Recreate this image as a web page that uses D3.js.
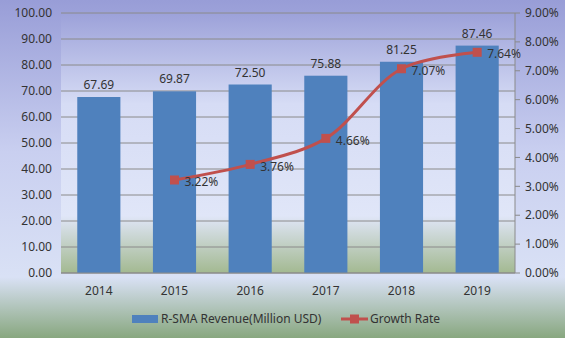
<!DOCTYPE html>
<html>
<head>
<meta charset="utf-8">
<script src="https://cdn.jsdelivr.net/npm/d3@7"></script>
<style>
  body { margin: 0; }
  svg { display: block; font-family: "Noto Sans", sans-serif; }
  text { fill: #333; }
</style>
</head>
<body>
<svg id="chart" width="565" height="338"></svg>
<script>
const years = ["2014", "2015", "2016", "2017", "2018", "2019"];
const revenue = [67.69, 69.87, 72.5, 75.88, 81.25, 87.46];
const growth = [null, 3.22, 3.76, 4.66, 7.07, 7.64];
const leftTicks = [0, 10, 20, 30, 40, 50, 60, 70, 80, 90, 100];
const rightTicks = [0, 1, 2, 3, 4, 5, 6, 7, 8, 9];

const W = 565;
const H = 338;
const margin = { top: 13, right: 50, bottom: 65, left: 61 };
const plotW = W - margin.left - margin.right;
const plotH = H - margin.top - margin.bottom;

const svg = d3.select("#chart");
const defs = svg.append("defs");

// chart background gradient
const bg = defs.append("linearGradient").attr("id", "bg").attr("x1", 0).attr("y1", 0).attr("x2", 0).attr("y2", 1);
bg.append("stop").attr("offset", "0%").attr("stop-color", "#989dd7");
bg.append("stop").attr("offset", "45%").attr("stop-color", "#c9cff0");
bg.append("stop").attr("offset", "82%").attr("stop-color", "#d9e1f5");
bg.append("stop").attr("offset", "100%").attr("stop-color", "#88a77f");

// plot area gradient
const pg = defs.append("linearGradient").attr("id", "pg").attr("x1", 0).attr("y1", 0).attr("x2", 0).attr("y2", 1);
pg.append("stop").attr("offset", "0%").attr("stop-color", "#9ca1d9");
pg.append("stop").attr("offset", "35%").attr("stop-color", "#d6dcf5");
pg.append("stop").attr("offset", "78%").attr("stop-color", "#e0e6f8");
pg.append("stop").attr("offset", "100%").attr("stop-color", "#a3b991");

svg.append("rect").attr("width", W).attr("height", H).attr("fill", "url(#bg)");

const g = svg.append("g").attr("transform", `translate(${margin.left},${margin.top})`);
g.append("rect").attr("width", plotW).attr("height", plotH).attr("fill", "url(#pg)");

const x = d3.scaleBand().domain(years).range([0, plotW]).paddingInner(0.43).paddingOuter(0.215);
const y = d3.scaleLinear().domain([0, 100]).range([plotH, 0]);
const y2 = d3.scaleLinear().domain([0, 9]).range([plotH, 0]);

// gridlines
g.append("g")
  .selectAll("line")
  .data(leftTicks)
  .join("line")
  .attr("x1", 0)
  .attr("x2", plotW)
  .attr("y1", (d) => y(d))
  .attr("y2", (d) => y(d))
  .attr("stroke", "#8a8a8a")
  .attr("stroke-width", 1);

// left axis labels
g.append("g")
  .selectAll("text")
  .data(leftTicks)
  .join("text")
  .attr("x", -9)
  .attr("y", (d) => y(d))
  .attr("dy", "0.35em")
  .attr("text-anchor", "end")
  .attr("font-size", 12)
  .text((d) => d.toFixed(2));

// right axis
const rAxis = g.append("g").attr("transform", `translate(${plotW},0)`);
rAxis.append("line").attr("y1", 0).attr("y2", plotH).attr("stroke", "#8a8a8a");
rAxis
  .selectAll("line.tick")
  .data(rightTicks)
  .join("line")
  .attr("class", "tick")
  .attr("x1", 0)
  .attr("x2", 5)
  .attr("y1", (d) => y2(d))
  .attr("y2", (d) => y2(d))
  .attr("stroke", "#8a8a8a");
rAxis
  .selectAll("text")
  .data(rightTicks)
  .join("text")
  .attr("x", 10)
  .attr("y", (d) => y2(d))
  .attr("dy", "0.35em")
  .attr("font-size", 12)
  .text((d) => d.toFixed(2) + "%");

// bars
g.append("g")
  .selectAll("rect")
  .data(revenue)
  .join("rect")
  .attr("x", (d, i) => x(years[i]))
  .attr("y", (d) => y(d))
  .attr("width", x.bandwidth())
  .attr("height", (d) => plotH - y(d))
  .attr("fill", "#4f81bd");

g.append("g")
  .selectAll("text")
  .data(revenue)
  .join("text")
  .attr("x", (d, i) => x(years[i]) + x.bandwidth() / 2)
  .attr("y", (d) => y(d) - 8)
  .attr("text-anchor", "middle")
  .attr("font-size", 12)
  .text((d) => d.toFixed(2));

// bottom axis line
g.append("line").attr("x1", 0).attr("x2", plotW).attr("y1", plotH).attr("y2", plotH).attr("stroke", "#8a8a8a");

g.append("g")
  .selectAll("text")
  .data(years)
  .join("text")
  .attr("x", (d) => x(d) + x.bandwidth() / 2)
  .attr("y", plotH + 22)
  .attr("text-anchor", "middle")
  .attr("font-size", 12)
  .text((d) => d);

// growth line
const pts = growth
  .map((v, i) => ({ v, year: years[i] }))
  .filter((d) => d.v !== null);
const cx = (d) => x(d.year) + x.bandwidth() / 2;

const line = d3.line().x(cx).y((d) => y2(d.v)).curve(d3.curveCatmullRom.alpha(0.5));
g.append("path")
  .datum(pts)
  .attr("d", line)
  .attr("fill", "none")
  .attr("stroke", "#c0504d")
  .attr("stroke-width", 3);

g.append("g")
  .selectAll("rect")
  .data(pts)
  .join("rect")
  .attr("x", (d) => cx(d) - 4.5)
  .attr("y", (d) => y2(d.v) - 4.5)
  .attr("width", 9)
  .attr("height", 9)
  .attr("fill", "#c0504d");

g.append("g")
  .selectAll("text")
  .data(pts)
  .join("text")
  .attr("x", (d) => cx(d) + 10)
  .attr("y", (d) => y2(d.v) + 2)
  .attr("dy", "0.35em")
  .attr("font-size", 12)
  .text((d) => d.v.toFixed(2) + "%");

// legend
const legend = svg.append("g").attr("transform", "translate(0,319)");
legend.append("rect").attr("x", 132).attr("y", -4).attr("width", 26).attr("height", 8).attr("fill", "#4f81bd");
legend.append("text").attr("x", 161).attr("y", 0).attr("dy", "0.35em").attr("font-size", 12).text("R-SMA Revenue(Million USD)");
legend.append("line").attr("x1", 341).attr("x2", 368).attr("y1", 0).attr("y2", 0).attr("stroke", "#c0504d").attr("stroke-width", 3);
legend.append("rect").attr("x", 350).attr("y", -4.5).attr("width", 9).attr("height", 9).attr("fill", "#c0504d");
legend.append("text").attr("x", 370).attr("y", 0).attr("dy", "0.35em").attr("font-size", 12).text("Growth Rate");
</script>
</body>
</html>
